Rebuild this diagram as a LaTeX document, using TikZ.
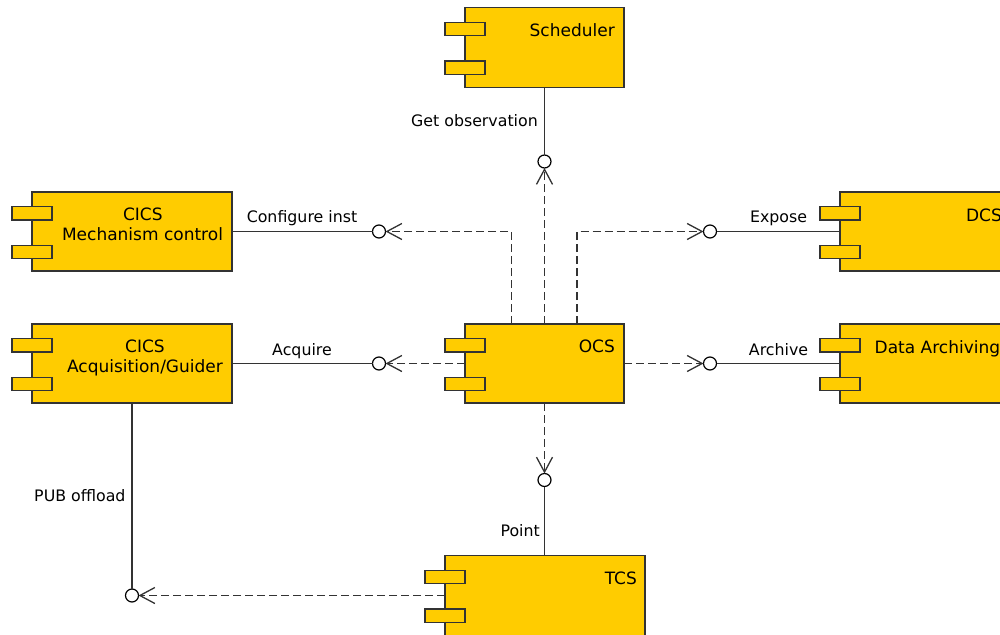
\documentclass[tikz,border=0pt]{standalone}
\usepackage{fontspec}
\setmainfont{DejaVu Sans}
\usetikzlibrary{arrows.meta}
\definecolor{compyellow}{HTML}{FFCC00}
\definecolor{compborder}{HTML}{333333}
\definecolor{linecol}{HTML}{333333}
\tikzset{
  compbox/.style={draw=compborder, fill=compyellow, line width=1.2pt, rectangle, inner sep=0pt, outer sep=0pt},
  ctext/.style={font=\fontsize{17}{20}\selectfont, inner sep=0pt, text=black},
  ltext/.style={font=\fontsize{15.8}{19}\selectfont, inner sep=0pt, text=black},
  iface/.style={circle, draw=black, fill=white, line width=1.2pt, minimum size=13pt, inner sep=0pt, outer sep=0pt},
  provided/.style={draw=linecol, line width=1.2pt},
  required/.style={draw=linecol, line width=1.2pt, dash pattern=on 8pt off 4pt, -{Straight Barb[length=15pt,width=16pt,line width=1.3pt]}},
}
\newcommand\umlcomp[5]{%
  \node[compbox, minimum width=#4pt, minimum height=#5pt, anchor=north west] (#1) at (#2,#3) {};
  \draw[compbox] ([xshift=-20pt,yshift=-14.8pt]#1.north west) rectangle ++(40pt,-13.2pt);
  \draw[compbox] ([xshift=-20pt,yshift=-53.4pt]#1.north west) rectangle ++(40pt,-13.2pt);
}
\begin{document}
\begin{tikzpicture}[x=1pt,y=-1pt]
\path[use as bounding box] (0,0) rectangle (1000,634);
\clip (0,0) rectangle (1000,634);
% components
\umlcomp{sched}{465}{7.5}{159}{80}
\umlcomp{mech}{32}{192}{200}{79}
\umlcomp{acq}{32}{324}{200}{79}
\umlcomp{ocs}{465}{324}{159}{79}
\umlcomp{dcs}{840}{192}{175}{79}
\umlcomp{arch}{840}{324}{175}{79}
\umlcomp{tcs}{445}{555.5}{200}{80}
% component names
\node[ctext, anchor=base east] (schedname) at (615,36.5) {Scheduler};
\node[ctext, anchor=base] (mechname1) at (142.8,220.7) {CICS};
\node[ctext, anchor=base] (mechname2) at (142.5,240.2) {Mechanism control};
\node[ctext, anchor=base] (acqname1) at (145,352.3) {CICS};
\node[ctext, anchor=base] (acqname2) at (145,372.3) {Acquisition/Guider};
\node[ctext, anchor=base east] (ocsname) at (615,352.7) {OCS};
\node[ctext, anchor=base east] (dcsname) at (1002,221) {DCS};
\node[ctext, anchor=base west] (archname) at (874.5,353) {Data Archiving};
\node[ctext, anchor=base east] (tcsname) at (637,584.5) {TCS};
% interfaces
\node[iface] (ifsched) at (544.5,161.5) {};
\node[iface] (ifconf) at (379,231.5) {};
\node[iface] (ifacq) at (379,363.5) {};
\node[iface] (ifexp) at (710,231.5) {};
\node[iface] (ifarch) at (710,363.5) {};
\node[iface] (ifpoint) at (544.5,480) {};
\node[iface] (ifpub) at (132,595.5) {};
% interface labels
\node[ltext, anchor=base east] (lsched) at (538,126.5) {Get observation};
\node[ltext, anchor=base] (lconf) at (302,222.7) {Configure inst};
\node[ltext, anchor=base] (lacq) at (302,355) {Acquire};
\node[ltext, anchor=base] (lexp) at (778.5,222.7) {Expose};
\node[ltext, anchor=base] (larch) at (778.5,355) {Archive};
\node[ltext, anchor=base east] (lpoint) at (540,536) {Point};
\node[ltext, anchor=base east] (lpub) at (125.7,501.7) {PUB offload};
% connectors
\draw[provided] (sched.south) -- (ifsched);
\draw[required] (ocs.north) -- (ifsched);
\draw[provided] (mech.east) -- (ifconf);
\draw[required] ([xshift=-33pt]ocs.north) |- (ifconf);
\draw[required] ([xshift=32.5pt]ocs.north) |- (ifexp);
\draw[provided] (ifexp) -- (dcs.west);
\draw[provided] (acq.east) -- (ifacq);
\draw[required] (ocs.west) -- (ifacq);
\draw[required] (ocs.east) -- (ifarch);
\draw[provided] (ifarch) -- (arch.west);
\draw[required] (ocs.south) -- (ifpoint);
\draw[provided] (ifpoint) -- (ifpoint |- tcs.north);
\draw[provided] (acq.south) -- (ifpub);
\draw[required] (tcs.west) -- (ifpub);
\end{tikzpicture}
\end{document}
